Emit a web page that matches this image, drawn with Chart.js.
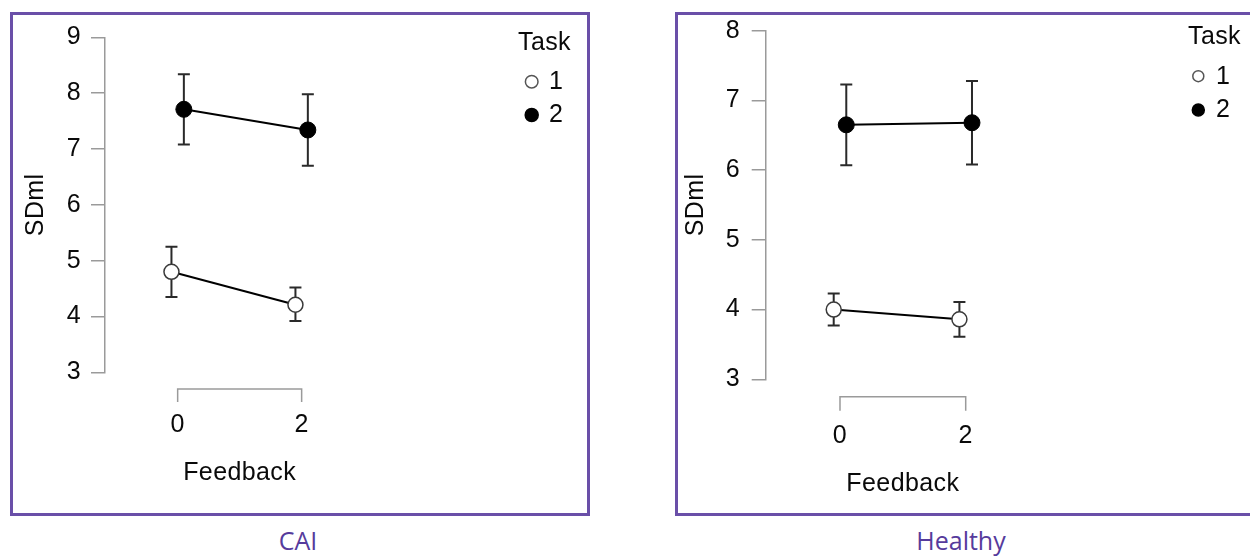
<!DOCTYPE html>
<html><head><meta charset="utf-8">
<script src="https://cdn.jsdelivr.net/npm/chart.js@4.4.1/dist/chart.umd.min.js"></script>
<style>
html,body{margin:0;padding:0;background:#fff;width:1250px;height:557px;overflow:hidden;position:relative;}
.frame{position:absolute;box-sizing:border-box;border:3px solid #6a4fa8;background:#fff;}
.frame canvas{display:block;}
.cap{position:absolute;font-family:'Open Sans',sans-serif;font-size:25px;line-height:25px;color:#563b9c;text-align:center;}
</style></head><body>
<div class="frame" style="left:10px;top:12px;width:580px;height:504px"><canvas id="c1" width="574" height="498"></canvas></div>
<div class="frame" style="left:675px;top:12px;width:590px;height:504px"><canvas id="c2" width="584" height="498"></canvas></div>
<div class="cap" style="left:198px;width:200px;top:528px">CAI</div>
<div class="cap" style="left:861px;width:200px;top:528px">Healthy</div>
<script>
// ---- data ----
const feedbackLevels = [0, 2];
const xTickLabels = ['0', '2'];
const taskLabels = ['1', '2'];
const legendTitle = 'Task';
const xTitle = 'Feedback';
const yTitle = 'SDml';

// CAI panel
const caiYTicks = [3, 4, 5, 6, 7, 8, 9];
const caiTask1Mean  = [4.80, 4.21];
const caiTask1Upper = [5.25, 4.52];
const caiTask1Lower = [4.35, 3.92];
const caiTask2Mean  = [7.71, 7.34];
const caiTask2Upper = [8.34, 7.98];
const caiTask2Lower = [7.08, 6.70];

// Healthy panel
const healthyYTicks = [3, 4, 5, 6, 7, 8];
const healthyTask1Mean  = [4.00, 3.86];
const healthyTask1Upper = [4.23, 4.11];
const healthyTask1Lower = [3.77, 3.61];
const healthyTask2Mean  = [6.65, 6.68];
const healthyTask2Upper = [7.23, 7.28];
const healthyTask2Lower = [6.07, 6.08];

// ---- styling / layout ----
const FONT = "'Liberation Sans', Arial, sans-serif";
const FS = 25;
const TXT = '#0a0a0a';
const AXIS = '#9a9a9a';
const DODGE = 0.1;
const SPACING = '0.4px';
Chart.defaults.font.family = FONT;

const textSpacing = {
  id: 'textSpacing',
  beforeDraw(chart) { if ('letterSpacing' in chart.ctx) chart.ctx.letterSpacing = SPACING; }
};

const errorBars = {
  id: 'errorBars',
  beforeDatasetsDraw(chart) {
    const {ctx, scales: {x, y}} = chart;
    ctx.save();
    ctx.strokeStyle = '#2a2a2a';
    ctx.lineWidth = 2;
    chart.data.datasets.forEach(d => {
      d.data.forEach((p, i) => {
        const px = x.getPixelForValue(p.x);
        const t = y.getPixelForValue(d.upper[i]);
        const b = y.getPixelForValue(d.lower[i]);
        ctx.beginPath();
        ctx.moveTo(px, t); ctx.lineTo(px, b);
        ctx.moveTo(px - 6, t); ctx.lineTo(px + 6, t);
        ctx.moveTo(px - 6, b); ctx.lineTo(px + 6, b);
        ctx.stroke();
      });
    });
    ctx.restore();
  }
};

const xBracket = {
  id: 'xBracket',
  afterDraw(chart, args, opts) {
    const {ctx, chartArea} = chart;
    const x = chart.scales.x;
    const x0 = x.getPixelForValue(feedbackLevels[0]);
    const x1 = x.getPixelForValue(feedbackLevels[feedbackLevels.length - 1]);
    const yb = chartArea.bottom + opts.offset;
    ctx.save();
    ctx.strokeStyle = AXIS;
    ctx.lineWidth = 1.5;
    ctx.beginPath();
    ctx.moveTo(x0, yb + opts.len); ctx.lineTo(x0, yb); ctx.lineTo(x1, yb); ctx.lineTo(x1, yb + opts.len);
    ctx.stroke();
    ctx.restore();
  }
};

const taskLegend = {
  id: 'taskLegend',
  afterDraw(chart, args, o) {
    const ctx = chart.ctx;
    ctx.save();
    if ('letterSpacing' in ctx) ctx.letterSpacing = SPACING;
    ctx.fillStyle = TXT;
    ctx.font = FS + 'px ' + FONT;
    ctx.textAlign = 'left';
    ctx.textBaseline = 'alphabetic';
    ctx.fillText(legendTitle, o.titleX, o.titleY);
    chart.data.datasets.forEach((d, i) => {
      const cy = o.itemY[i];
      ctx.beginPath();
      ctx.arc(o.cx, cy, o.r[i], 0, Math.PI * 2);
      ctx.fillStyle = d.pointBackgroundColor;
      ctx.fill();
      ctx.lineWidth = 1.5;
      ctx.strokeStyle = i === 0 ? '#555' : '#000';
      ctx.stroke();
      ctx.fillStyle = TXT;
      ctx.textBaseline = 'middle';
      ctx.fillText(d.label, o.tx, cy + 0.5);
    });
    ctx.restore();
  }
};

function makeChart(id, p) {
  const mk = (label, mean, upper, lower, off, bg, border, r, bw) => ({
    label,
    data: feedbackLevels.map((f, i) => ({x: f + off, y: mean[i]})),
    upper, lower,
    borderColor: '#000', borderWidth: 2,
    pointBackgroundColor: bg, pointBorderColor: border,
    pointRadius: r, pointBorderWidth: bw, pointHoverRadius: r,
    showLine: true, fill: false, tension: 0, clip: false
  });
  return new Chart(document.getElementById(id), {
    type: 'line',
    data: {
      datasets: [
        mk(taskLabels[0], p.t1m, p.t1u, p.t1l, -DODGE, '#ffffff', '#3a3a3a', 7.5, 1.5),
        mk(taskLabels[1], p.t2m, p.t2u, p.t2l, DODGE, '#000000', '#000000', 8, 1)
      ]
    },
    plugins: [textSpacing, errorBars, xBracket, taskLegend],
    options: {
      responsive: false,
      animation: false,
      events: [],
      layout: {padding: {top: p.padTop, right: p.padRight, left: 0, bottom: 0}},
      plugins: {
        legend: {display: false},
        tooltip: {enabled: false},
        xBracket: p.bracket,
        taskLegend: p.legend
      },
      scales: {
        x: {
          type: 'linear', min: p.xMin, max: p.xMax,
          afterBuildTicks: s => { s.ticks = feedbackLevels.map(v => ({value: v})); },
          afterFit: s => { s.height = p.xH; s.paddingLeft = 0; s.paddingRight = 0; },
          ticks: {
            padding: p.xTickPad, color: TXT, font: {size: FS}, maxRotation: 0, autoSkip: false,
            callback: v => xTickLabels[feedbackLevels.indexOf(v)]
          },
          grid: {display: false, drawTicks: false},
          border: {display: false},
          title: {display: true, text: xTitle, color: TXT, font: {size: FS}, padding: {top: 0, bottom: p.xTitlePad}}
        },
        y: {
          type: 'linear', min: p.yTicks[0], max: p.yTicks[p.yTicks.length - 1],
          afterBuildTicks: s => { s.ticks = p.yTicks.map(v => ({value: v})); },
          afterFit: s => { s.width = p.yW; s.paddingTop = 0; s.paddingBottom = 0; },
          ticks: {padding: p.yTickPad, color: TXT, font: {size: FS}},
          grid: {drawOnChartArea: false, drawTicks: true, tickLength: 14, color: AXIS, lineWidth: 1.5},
          border: {display: true, color: AXIS, width: 1.5},
          title: {display: true, text: yTitle, color: TXT, font: {size: FS}, padding: {top: p.yTitlePad, bottom: 0}}
        }
      }
    }
  });
}

makeChart('c1', {
  t1m: caiTask1Mean, t1u: caiTask1Upper, t1l: caiTask1Lower,
  t2m: caiTask2Mean, t2u: caiTask2Upper, t2l: caiTask2Lower,
  yTicks: caiYTicks,
  xMin: -1.172, xMax: 3.172,
  padTop: 22.3, padRight: 212.7,
  xH: 140.7, yW: 92,
  xTickPad: 37.6, xTitlePad: 25, yTickPad: 10, yTitlePad: 8,
  bracket: {offset: 16.7, len: 13},
  legend: {titleX: 505, titleY: 35, cx: 518.7, itemY: [66.7, 100], r: [6.3, 6.5], tx: 536}
});

makeChart('c2', {
  t1m: healthyTask1Mean, t1u: healthyTask1Upper, t1l: healthyTask1Lower,
  t2m: healthyTask2Mean, t2u: healthyTask2Upper, t2l: healthyTask2Lower,
  yTicks: healthyYTicks,
  xMin: -1.182, xMax: 3.182,
  padTop: 15.7, padRight: 222,
  xH: 133.7, yW: 87.7,
  xTickPad: 41.6, xTitlePad: 13.4, yTickPad: 11.7, yTitlePad: 3,
  bracket: {offset: 17.4, len: 14},
  legend: {titleX: 510, titleY: 29, cx: 520.3, itemY: [61.2, 95], r: [5.5, 6], tx: 538}
});
</script>
</body></html>
